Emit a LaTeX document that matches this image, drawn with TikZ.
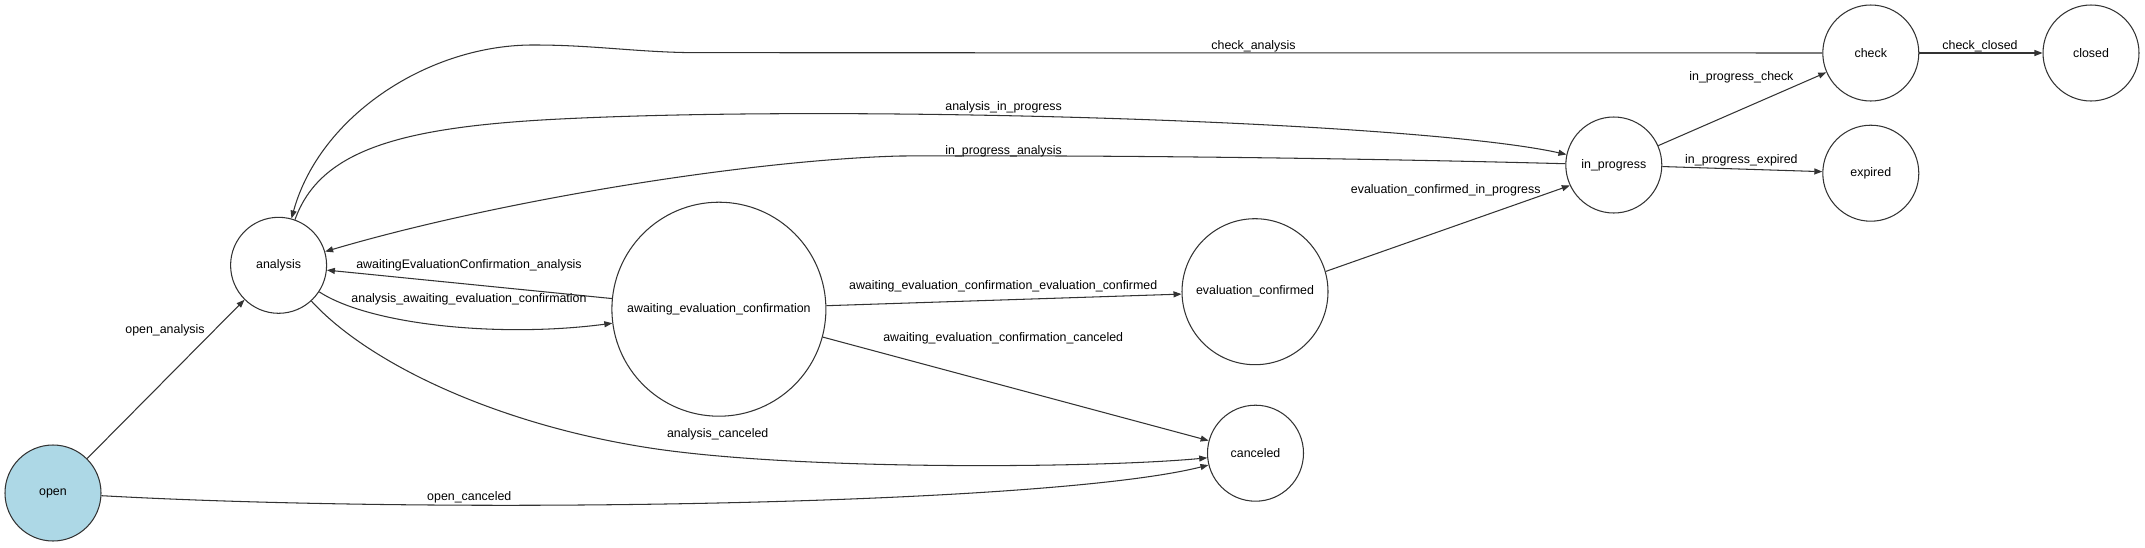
\documentclass[tikz,border=0pt]{standalone}
\usepackage{fontspec}
\setmainfont{Liberation Sans}
\usetikzlibrary{arrows.meta}
\definecolor{edgecol}{HTML}{333333}
\definecolor{openfill}{HTML}{ADD8E6}
\tikzset{
  state/.style={circle, draw=edgecol, line width=1.05pt, inner sep=0pt, font=\fontsize{12.4}{14}\selectfont},
  lbl/.style={inner sep=0pt, font=\fontsize{12.4}{14}\selectfont, text=black},
  edge/.style={draw=edgecol, line width=1.05pt, -{Triangle[length=8pt,width=6pt]}},
}
\begin{document}
\begin{tikzpicture}[x=1pt, y=-1pt]
\useasboundingbox (0,0) rectangle (2145,547);
% states
\node[state, minimum size=96pt, fill=openfill] (open) at (53,493) {open};
\node[state, minimum size=96pt] (analysis) at (278.6,265.3) {analysis};
\node[state, minimum size=214pt] (awaiting) at (718.9,309.2) {awaiting\_evaluation\_confirmation};
\node[state, minimum size=146pt] (evalconf) at (1255,291.7) {evaluation\_confirmed};
\node[state, minimum size=96pt] (canceled) at (1255.5,453.2) {canceled};
\node[state, minimum size=96pt] (inprog) at (1613.8,165) {in\_progress};
\node[state, minimum size=96pt] (check) at (1870.8,53) {check};
\node[state, minimum size=96pt] (closed) at (2091,53) {closed};
\node[state, minimum size=96pt] (expired) at (1870.8,173.2) {expired};
% helper coordinates
\coordinate (ca1) at (700,52.7);
\coordinate (ca2) at (535,45);
\coordinate (ac1) at (650,448);
\coordinate (ai1) at (560,119);
\coordinate (ia1) at (900,156);
% edges
\draw[edge] (open) -- (analysis);
\draw[edge] (open) .. controls (450,515) and (1050,505) .. (canceled);
\draw[edge] (analysis) .. controls (370,365) and (500,425) .. (ac1) .. controls (800,471) and (1100,468) .. (canceled);
\draw[edge] (analysis) .. controls (370,325) and (500,338) .. (awaiting);
\draw[edge] (awaiting) -- (analysis);
\draw[edge] (awaiting) -- (evalconf);
\draw[edge] (awaiting) -- (canceled);
\draw[edge] (evalconf.16) -- (inprog.205);
\draw[edge] (inprog) -- (check);
\draw[edge] (inprog) -- (expired);
\draw[edge] (check) -- (closed);
\draw[edge] (check) -- (ca1) .. controls (640,52.7) and (595,45) .. (ca2) .. controls (430,44) and (320,115) .. (analysis);
\draw[edge] (analysis) .. controls (320,150) and (400,127) .. (ai1) .. controls (860,104) and (1420,122) .. (inprog);
\draw[edge] (inprog) .. controls (1350,158) and (1100,155) .. (ia1) .. controls (750,160) and (500,200) .. (analysis);
% labels
\node[lbl] (l1) at (165,330.7) {open\_analysis};
\node[lbl] (l2) at (469.3,497.7) {open\_canceled};
\node[lbl] (l3) at (469,265.7) {awaitingEvaluationConfirmation\_analysis};
\node[lbl] (l4) at (469,299.3) {analysis\_awaiting\_evaluation\_confirmation};
\node[lbl] (l5) at (717.7,434) {analysis\_canceled};
\node[lbl] (l6) at (1003.2,286.7) {awaiting\_evaluation\_confirmation\_evaluation\_confirmed};
\node[lbl] (l7) at (1003.2,338.7) {awaiting\_evaluation\_confirmation\_canceled};
\node[lbl] (l8) at (1445.7,190) {evaluation\_confirmed\_in\_progress};
\node[lbl] (l9) at (1253.5,46) {check\_analysis};
\node[lbl] (l10) at (1003.6,107.3) {analysis\_in\_progress};
\node[lbl] (l11) at (1003.6,151) {in\_progress\_analysis};
\node[lbl] (l12) at (1741.4,77.7) {in\_progress\_check};
\node[lbl] (l13) at (1741.4,160) {in\_progress\_expired};
\node[lbl] (l14) at (1980,46) {check\_closed};
\end{tikzpicture}
\end{document}
